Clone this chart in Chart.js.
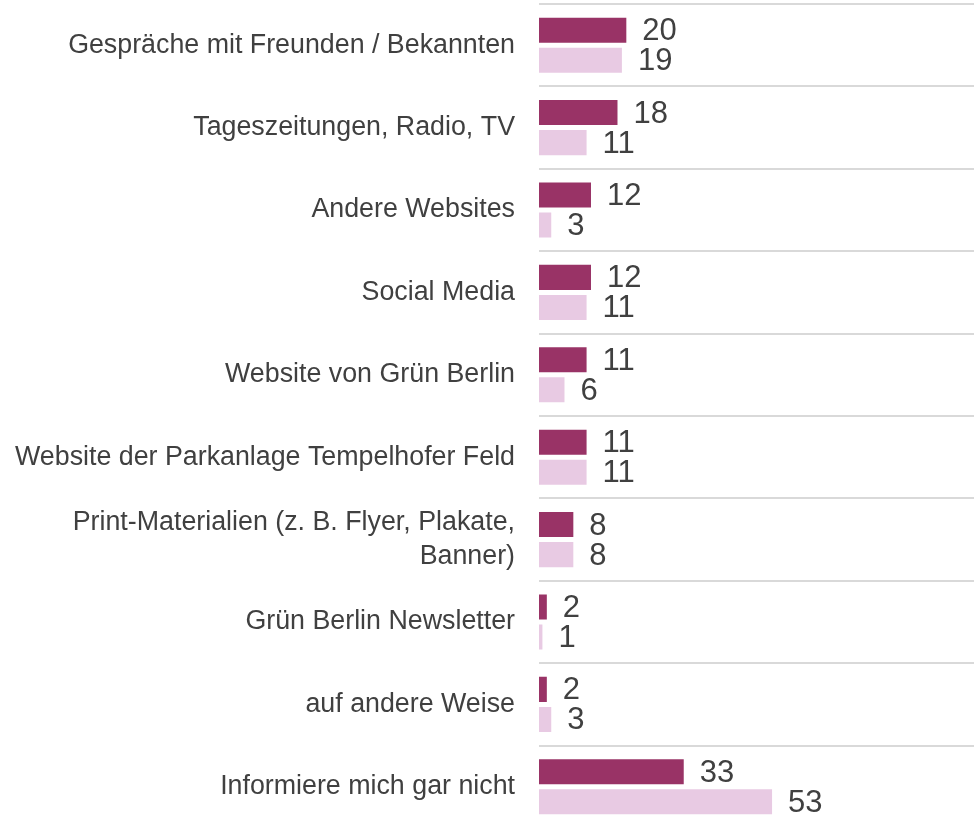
<!DOCTYPE html>
<html>
<head>
<meta charset="utf-8">
<script src="https://cdn.jsdelivr.net/npm/chart.js@4/dist/chart.umd.min.js"></script>
<style>
  html, body { margin: 0; padding: 0; background: #fff; overflow: hidden; }
  #wrap { width: 974px; height: 830px; }
</style>
</head>
<body>
<div id="wrap"><canvas id="barChart"></canvas></div>
<script>
const categories = [
  "Gespräche mit Freunden / Bekannten",
  "Tageszeitungen, Radio, TV",
  "Andere Websites",
  "Social Media",
  "Website von Grün Berlin",
  "Website der Parkanlage Tempelhofer Feld",
  ["Print-Materialien (z. B. Flyer, Plakate,", "Banner)"],
  "Grün Berlin Newsletter",
  "auf andere Weise",
  "Informiere mich gar nicht"
];
const seriesA = [20, 18, 12, 12, 11, 11, 8, 2, 2, 33];
const seriesB = [19, 11, 3, 11, 6, 11, 8, 1, 3, 53];

const valueLabels = {
  id: "valueLabels",
  afterDatasetsDraw(chart) {
    const ctx = chart.ctx;
    ctx.save();
    ctx.font = "31px 'Liberation Sans', Arial, sans-serif";
    ctx.fillStyle = "#404040";
    ctx.textAlign = "left";
    ctx.textBaseline = "middle";
    chart.data.datasets.forEach((ds, i) => {
      chart.getDatasetMeta(i).data.forEach((bar, j) => {
        ctx.fillText(ds.data[j], bar.x + 15, bar.y + 1.5);
      });
    });
    ctx.restore();
  }
};

new Chart(document.getElementById("barChart"), {
  type: "bar",
  data: {
    labels: categories,
    datasets: [
      {
        label: "A",
        data: seriesA,
        backgroundColor: "#993366",
        borderColor: "#ffffff",
        borderWidth: 1,
        categoryPercentage: 0.73,
        barPercentage: 0.9,
      },
      {
        label: "B",
        data: seriesB,
        backgroundColor: "#e8cae3",
        borderColor: "#ffffff",
        borderWidth: 1,
        categoryPercentage: 0.73,
        barPercentage: 0.9,
      },
    ],
  },
  plugins: [valueLabels],
  options: {
    indexAxis: "y",
    responsive: true,
    maintainAspectRatio: false,
    animation: false,
    layout: { padding: { top: 4, right: 0, bottom: 2, left: 0 } },
    plugins: { legend: { display: false }, tooltip: { enabled: false } },
    scales: {
      x: {
        display: false,
        min: 0,
        max: 98.5,
      },
      y: {
        border: { display: false },
        grid: { color: "#d9d9d9", lineWidth: 2, drawTicks: false, offset: true },
        ticks: {
          color: "#404040",
          padding: 24,
          font: { family: "'Liberation Sans', Arial, sans-serif", size: 26.8, lineHeight: 1.3 },
        },
        afterFit(scale) {
          scale.width = 539;
          scale.paddingTop = 0;
          scale.paddingBottom = 0;
        },
      },
    },
  },
});
</script>
</body>
</html>
